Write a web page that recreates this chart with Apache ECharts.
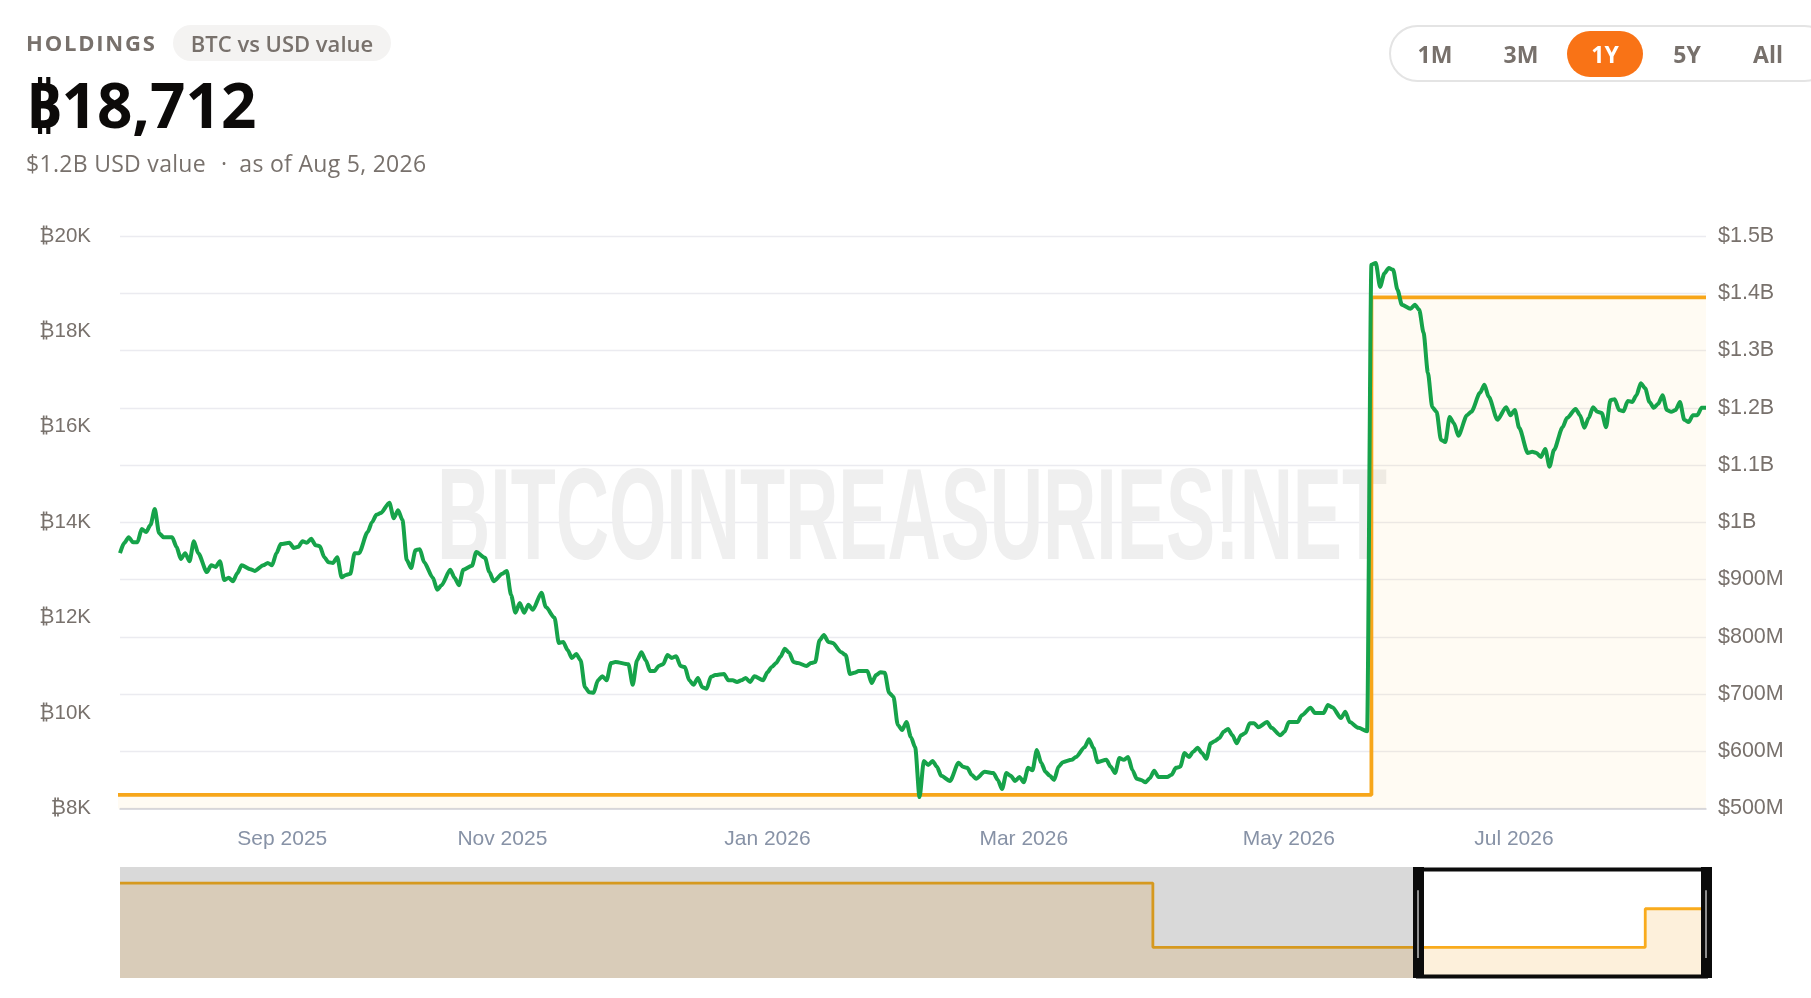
<!DOCTYPE html>
<html>
<head>
<meta charset="utf-8">
<script src="https://cdn.jsdelivr.net/npm/echarts@6/dist/echarts.min.js"></script>
<style>
html,body{margin:0;padding:0;background:#fff;width:1811px;height:998px;overflow:hidden;}
#chart{position:absolute;left:0;top:0;width:1811px;height:998px;}
.t{position:absolute;font-family:"Open Sans","Noto Sans",sans-serif;color:#78716c;white-space:nowrap;}
#title{left:26px;top:31px;font-size:22px;line-height:22px;font-weight:700;letter-spacing:1.8px;}
#pill{left:173px;top:25px;width:218px;height:36px;line-height:36px;border-radius:18px;background:#f4f3f2;font-size:22px;font-weight:600;text-align:center;}
#big{left:26px;top:73px;font-size:62px;line-height:62px;font-weight:700;color:#0c0a09;}
#sub{left:26px;top:152px;font-size:23px;line-height:23px;letter-spacing:0.3px;}
#sub .dot{display:inline-block;margin:0 12px 0 15px;}
#range{position:absolute;left:1389px;top:25px;width:440px;height:53px;border:2px solid #e4e4e4;border-radius:30px;}
#active{position:absolute;left:1567px;top:31px;width:76px;height:46px;border-radius:23px;background:#f97316;}
.b{position:absolute;top:43px;font-family:"Open Sans","Noto Sans",sans-serif;font-size:23px;line-height:23px;font-weight:700;color:#78716c;transform:translateX(-50%);}
.b.on{color:#fff;}
</style>
</head>
<body>
<div id="chart"></div>
<div class="t" id="title">HOLDINGS</div>
<div class="t" id="pill">BTC vs USD value</div>
<div class="t" id="big">₿18,712</div>
<div class="t" id="sub">$1.2B USD value<span class="dot">·</span>as of Aug 5, 2026</div>
<div id="range"></div>
<div id="active"></div>
<div class="b" style="left:1435px">1M</div>
<div class="b" style="left:1521px">3M</div>
<div class="b on" style="left:1605px">1Y</div>
<div class="b" style="left:1687px">5Y</div>
<div class="b" style="left:1768px">All</div>
<script>
// ---------- data ----------
const windowRange = ['2025-08-05', '2026-08-05'];
const holdingDates = ['2021-02-02', '2024-09-03', '2026-05-20', '2026-08-05'];
const holdingBTC = [25650, 8285, 18712, 18712];
const usdDays = [0,1,2,3,4,5,6,7,8,9,10,12,13,14,15,16,17,18,20,21,22,23,24,25,26,27,28,30,31,33,34,35,36,37,39,40,41,42,43,44,45,46,47,48,49,50,51,52,53,54,55,57,58,59,60,62,63,64,65,66,67,68,69,70,72,73,74,76,77,78,79,81,82,84,85,86,88,89,90,91,92,93,94,95,97,98,100,101,102,103,104,105,106,107,108,109,110,111,112,113,114,117,118,119,120,121,122,123,124,125,126,127,128,129,130,131,132,133,134,135,136,137,139,140,141,142,143,144,145,146,148,149,150,151,152,153,154,155,156,158,159,160,161,162,163,164,166,167,168,169,170,172,173,174,175,176,177,178,179,180,181,182,183,184,185,186,187,188,189,191,193,194,195,196,197,199,201,202,203,204,205,206,207,208,209,210,211,212,213,214,215,216,217,219,220,222,223,224,225,227,228,229,230,231,232,233,234,235,236,237,238,239,241,242,243,244,245,246,247,248,249,250,251,252,253,254,255,256,257,258,259,260,261,262,264,265,267,268,269,271,272,274,275,277,278,279,281,282,283,285,287,288,289,290,291,292,293,294,295,297,298,299,300,301,302,303,304,305,306,307,308,310,311,313,314,315,317,319,320,321,322,324,325,326,327,328,329,330,332,333,335,336,337,338,339,340,341,342,343,344,345,346,347,348,349,350,351,352,353,354,355,356,357,358,359,360,361,362,363,364,365];
const usdValuesM = [946,964,974,965,965,988,983,995,1023,981,974,974,957,936,946,932,967,946,913,925,922,932,899,903,897,911,925,918,915,925,929,925,946,962,964,955,957,967,964,971,960,958,939,930,929,939,904,908,910,946,946,983,1000,1013,1016,1034,1007,1021,1004,934,920,951,953,930,903,882,890,917,903,890,917,924,948,938,913,897,910,915,873,842,859,842,856,847,877,852,833,789,791,777,763,770,759,712,703,702,724,731,724,754,756,752,716,759,773,759,740,740,749,752,768,763,766,749,747,724,716,728,712,709,730,733,735,724,724,721,724,728,721,731,724,738,747,754,765,779,772,756,754,749,754,756,794,803,791,789,773,768,735,737,740,740,719,733,738,737,702,695,646,637,651,625,607,520,583,576,583,573,557,548,580,573,571,559,552,564,562,550,534,562,557,548,555,546,571,567,602,580,564,557,550,573,581,585,590,607,621,606,581,585,573,562,588,585,590,567,552,550,546,553,566,555,555,559,571,573,597,590,599,606,597,587,614,618,623,634,639,628,614,628,632,649,649,642,651,641,628,634,651,651,663,676,667,667,681,677,658,669,651,641,635,1450,1453,1411,1435,1444,1441,1406,1380,1373,1380,1371,1331,1261,1201,1193,1144,1140,1184,1173,1151,1187,1193,1226,1240,1219,1179,1201,1187,1196,1165,1121,1123,1121,1114,1128,1097,1126,1166,1182,1198,1187,1165,1182,1201,1193,1191,1166,1213,1215,1196,1194,1212,1210,1222,1243,1234,1210,1200,1207,1222,1196,1193,1196,1210,1179,1175,1187,1187,1200,1200];
const xLabelMonths = [8, 10, 0, 2, 4, 6];   // Sep, Nov, Jan, Mar, May, Jul
const monthNames = ['Jan','Feb','Mar','Apr','May','Jun','Jul','Aug','Sep','Oct','Nov','Dec'];
const btcAxis = {min: 8000, max: 20000, step: 2000};
const usdAxis = {min: 500, max: 1500, step: 100};
const shadowMax = 30000;
const watermark = 'BITCOINTREASURIES!NET';

// ---------- build ----------
const DAY = 86400000;
const ts = s => Date.parse(s + 'T00:00:00Z');
const winStart = ts(windowRange[0]), winEnd = ts(windowRange[1]);
const holdings = holdingDates.map((d, i) => [ts(d), holdingBTC[i]]);
const usd = usdDays.map((d, i) => [winStart + d * DAY, usdValuesM[i]]);
function sliceSteps(data, from, to) {
  let cur = null;
  data.forEach(p => { if (p[0] <= from) cur = p[1]; });
  const out = [[from, cur]];
  data.forEach(p => { if (p[0] > from && p[0] <= to) out.push(p); });
  return out;
}
const holdingsWin = sliceSteps(holdings, winStart, winEnd);

const chart = echarts.init(document.getElementById('chart'), null, {renderer: 'canvas'});
const labelFont = '"Liberation Sans", Arial, "Noto Sans", sans-serif';
const xLabelStyle = {color: '#8792a6', fontSize: 21, fontFamily: labelFont};
// first label is left-aligned to its tick, last label right-aligned (padding equal to text width)
const firstLabelWidth = 90, lastLabelWidth = 80;
chart.setOption({
  animation: false,
  backgroundColor: 'transparent',
  graphic: [{
    type: 'text', x: 437, y: 523, scaleX: 0.567, silent: true, z: 1,
    style: {text: watermark, fill: '#efefef', font: 'bold 130px "Liberation Sans", Arial, sans-serif', align: 'left', verticalAlign: 'middle'}
  }],
  grid: [
    {left: 120, right: 105, top: 236, bottom: 189.5},
    {left: 120, right: 105, top: 867, height: 111, show: true, backgroundColor: '#d9d9d9', borderWidth: 0}
  ],
  xAxis: [
    {
      type: 'time', gridIndex: 0, min: winStart, max: winEnd, splitNumber: 12,
      axisLine: {show: true, lineStyle: {color: '#d2d2d8', width: 1.5}},
      axisTick: {show: false}, splitLine: {show: false},
      axisLabel: Object.assign({
        formatter: function (v) {
          const d = new Date(v);
          const k = xLabelMonths.indexOf(d.getUTCMonth());
          if (d.getUTCDate() !== 1 || k < 0) return '';
          const txt = monthNames[d.getUTCMonth()] + ' ' + d.getUTCFullYear();
          if (k === 0) return '{first|' + txt + '}';
          if (k === xLabelMonths.length - 1) return '{last|' + txt + '}';
          return txt;
        },
        margin: 20, showMinLabel: false, showMaxLabel: false,
        rich: {
          first: Object.assign({padding: [0, 0, 0, firstLabelWidth]}, xLabelStyle),
          last: Object.assign({padding: [0, lastLabelWidth, 0, 0]}, xLabelStyle)
        }
      }, xLabelStyle)
    },
    {type: 'time', gridIndex: 1, min: holdings[0][0], max: holdings[holdings.length - 1][0], show: false}
  ],
  yAxis: [
    {
      type: 'value', gridIndex: 0, position: 'left', min: btcAxis.min, max: btcAxis.max, interval: btcAxis.step,
      axisLine: {show: false}, axisTick: {show: false}, splitLine: {show: false},
      axisLabel: {formatter: v => '₿' + (v / 1000) + 'K', color: '#78716c', fontSize: 20.5, fontFamily: labelFont, margin: 29, padding: [5, 0, 0, 0]}
    },
    {
      type: 'value', gridIndex: 0, position: 'right', min: usdAxis.min, max: usdAxis.max, interval: usdAxis.step,
      axisLine: {show: false}, axisTick: {show: false},
      splitLine: {show: true, lineStyle: {color: '#ebebf0', width: 1.4}},
      axisLabel: {formatter: v => v >= 1000 ? '$' + (v / 1000) + 'B' : '$' + v + 'M', color: '#78716c', fontSize: 21.5, fontFamily: labelFont, margin: 12, padding: [5, 0, 0, 0]}
    },
    {type: 'value', gridIndex: 1, min: 0, max: shadowMax, show: false}
  ],
  series: [
    {
      name: 'BTC holdings', type: 'line', xAxisIndex: 0, yAxisIndex: 0, step: 'end', data: holdings,
      symbol: 'none', lineStyle: {color: '#f7a61a', width: 3.8}, areaStyle: {color: 'rgba(247,168,27,0.075)'}, z: 2
    },
    {
      name: 'USD value', type: 'line', xAxisIndex: 0, yAxisIndex: 1, data: usd,
      symbol: 'none', smooth: 0.25, smoothMonotone: 'x', lineStyle: {color: '#16a34a', width: 4}, z: 3
    },
    {
      name: 'all', type: 'line', xAxisIndex: 1, yAxisIndex: 2, step: 'end', data: holdings, silent: true,
      symbol: 'none', lineStyle: {color: '#d6991f', width: 2.8}, areaStyle: {color: '#d9ccb9', opacity: 1}, z: 1
    },
    {
      name: 'winbg', type: 'line', xAxisIndex: 1, yAxisIndex: 2, data: [[winStart, shadowMax], [winEnd, shadowMax]], silent: true,
      symbol: 'none', lineStyle: {width: 0}, areaStyle: {color: '#ffffff', opacity: 1}, z: 2
    },
    {
      name: 'win', type: 'line', xAxisIndex: 1, yAxisIndex: 2, step: 'end', data: holdingsWin, silent: true,
      symbol: 'none', lineStyle: {color: '#f9ab1c', width: 2.8}, areaStyle: {color: '#fdf0db', opacity: 1}, z: 3
    },
    {
      name: 'frame', type: 'line', xAxisIndex: 1, yAxisIndex: 2, data: [], clip: false, silent: true, symbol: 'none', z: 6,
      markArea: {
        silent: true, z: 6, label: {show: false},
        itemStyle: {color: 'rgba(0,0,0,0)', borderColor: '#0b0b0b', borderWidth: 4},
        data: [[{xAxis: winStart, yAxis: shadowMax * 0.0135}, {xAxis: winEnd, yAxis: shadowMax * 0.9775}]]
      },
      markLine: {
        silent: true, z: 7, symbol: ['none', 'none'], label: {show: false}, animation: false,
        emphasis: {disabled: true},
        data: [
          [{coord: [winStart, 0], lineStyle: {color: '#0b0b0b', width: 11, type: 'solid'}}, {coord: [winStart, shadowMax]}],
          [{coord: [winEnd, 0], lineStyle: {color: '#0b0b0b', width: 11, type: 'solid'}}, {coord: [winEnd, shadowMax]}],
          [{coord: [winStart, shadowMax * 0.18], lineStyle: {color: '#bdbdbd', width: 1.5, type: 'solid'}}, {coord: [winStart, shadowMax * 0.79]}],
          [{coord: [winEnd, shadowMax * 0.18], lineStyle: {color: '#bdbdbd', width: 1.5, type: 'solid'}}, {coord: [winEnd, shadowMax * 0.79]}]
        ]
      }
    }
  ]
});
</script>
</body>
</html>
